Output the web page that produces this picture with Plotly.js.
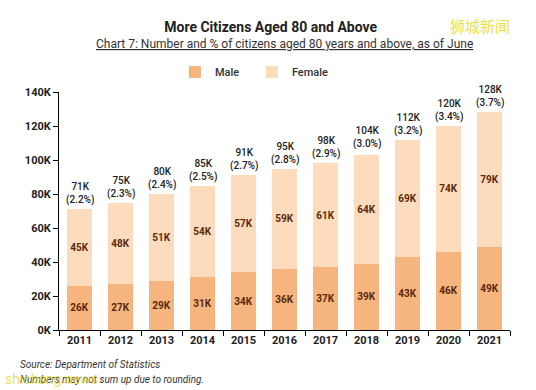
<!DOCTYPE html>
<html><head><meta charset="utf-8">
<script src="https://cdn.plot.ly/plotly-3.0.1.min.js"></script>
<style>html,body{margin:0;padding:0;background:#fff;}#chart{width:536px;height:390px;}</style>
</head><body><div id="chart"></div>
<script>
const years = ['2011','2012','2013','2014','2015','2016','2017','2018','2019','2020','2021'];
const male = [26,27,29,31,34,36,37,39,43,46,49];
const female = [45,48,51,54,57,59,61,64,69,74,79];
const totals = [71,75,80,85,91,95,98,104,112,120,128];
const pct = ['2.2','2.3','2.4','2.5','2.7','2.8','2.9','3.0','3.2','3.4','3.7'];
const yTicks = [0,20,40,60,80,100,120,140];

const FONT = 'Roboto, "Open Sans", sans-serif';
const labelFont = {family: FONT, size: 10, color: '#5a2a0c', weight: 700};

const traces = [
  {type:'bar', name:'Male', x:years, y:male, marker:{color:'#f6b47e'},
   text: male.map(v=>v+'K'), textposition:'inside', insidetextanchor:'middle',
   textangle:0, constraintext:'none', textfont: labelFont, hoverinfo:'skip'},
  {type:'bar', name:'Female', x:years, y:female, marker:{color:'#fcdcbd'},
   text: female.map(v=>v+'K'), textposition:'inside', insidetextanchor:'middle',
   textangle:0, constraintext:'none', textfont: labelFont, hoverinfo:'skip'}
];

// on a category axis, annotation x is the category's serial index
const annotations = years.map((yr,i)=>({
  x: i, y: totals[i], xref:'x', yref:'y', yanchor:'bottom', yshift:1,
  text: totals[i]+'K<br>('+pct[i]+'%)', showarrow:false,
  font:{family:FONT, size:10, color:'#222', weight:500}
}));
annotations.push(
  {xref:'paper', yref:'paper', x:0.5, y:1.2, xanchor:'center', yanchor:'middle',
   text:'<u>Chart 7: Number and % of citizens aged 80 years and above, as of June</u>',
   showarrow:false, font:{family:FONT, size:12, color:'#333'}},
  {xref:'paper', yref:'paper', x:-0.091, y:-0.143, xanchor:'left', yanchor:'middle',
   text:'<i>Source: Department of Statistics</i>', showarrow:false,
   font:{family:FONT, size:10, color:'#333'}},
  {xref:'paper', yref:'paper', x:-0.091, y:-0.21, xanchor:'left', yanchor:'middle',
   text:'<i>Numbers may not sum up due to rounding.</i>', showarrow:false,
   font:{family:FONT, size:10, color:'#333'}},
  {xref:'paper', yref:'paper', x:1.005, y:1.28, xanchor:'right', yanchor:'middle',
   text:'狮城新闻', showarrow:false,
   font:{family:'"Noto Sans CJK SC", sans-serif', size:15, color:'rgba(235,220,40,0.9)'}},
  {xref:'paper', yref:'paper', x:-0.125, y:-0.205, xanchor:'left', yanchor:'middle',
   text:'shicheng.news', showarrow:false,
   font:{family:FONT, size:14, color:'rgba(225,215,40,0.75)'}}
);

const layout = {
  width:536, height:390,
  margin:{l:59, r:26, t:92, b:60},
  paper_bgcolor:'#fff', plot_bgcolor:'#fff',
  barmode:'stack', bargap:0.37,
  font:{family:FONT, color:'#222'},
  title:{text:'<b>More Citizens Aged 80 and Above</b>', x:0.505, xanchor:'center',
         y:0.93, yanchor:'middle', font:{family:FONT, size:14, color:'#222'}},
  showlegend:true,
  legend:{orientation:'h', x:0.257, y:1.084, xanchor:'left', yanchor:'middle',
          traceorder:'normal', entrywidth:32, itemwidth:30,
          font:{family:FONT, size:11, color:'#333', weight:500}},
  xaxis:{type:'category', range:[-0.5, years.length-0.5], showgrid:false, showline:true,
         linecolor:'#000', linewidth:1,
         ticks:'outside', tickson:'boundaries', ticklen:5, tickcolor:'#000',
         tickfont:{family:FONT, size:11, color:'#222', weight:700}, fixedrange:true},
  yaxis:{range:[0,140], tickvals:yTicks, ticktext:yTicks.map(v=>v+'K'),
         showgrid:false, zeroline:false, showline:true, linecolor:'#000', linewidth:1,
         ticks:'outside', ticklen:5, tickcolor:'#000',
         tickfont:{family:FONT, size:11, color:'#222', weight:700}, fixedrange:true},
  annotations: annotations
};

Plotly.newPlot('chart', traces, layout, {displayModeBar:false, staticPlot:true});
</script></body></html>
